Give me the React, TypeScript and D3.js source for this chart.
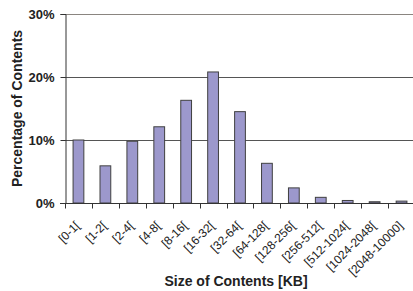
import React, { useRef, useEffect } from 'react';
import * as d3 from 'd3';

const categories = [
  '[0-1[', '[1-2[', '[2-4[', '[4-8[', '[8-16[', '[16-32[', '[32-64[',
  '[64-128[', '[128-256[', '[256-512[', '[512-1024[', '[1024-2048[', '[2048-10000]',
];
const percentages = [10.0, 5.9, 9.8, 12.1, 16.3, 20.8, 14.5, 6.3, 2.4, 0.9, 0.4, 0.2, 0.3];
const yTicks = [0, 10, 20, 30];

function Chart() {
  const chartRef = useRef<SVGSVGElement>(null);

  useEffect(() => {
    const svg = d3.select(chartRef.current);
    svg.selectAll('*').remove();

    const margin = { top: 14, right: -2, bottom: 88, left: 65 };
    const width = 413;
    const height = 291;
    const font = '"Liberation Sans", Arial, sans-serif';

    const x = d3
      .scaleBand()
      .domain(categories)
      .range([margin.left, width - margin.right])
      .paddingInner(0.6)
      .paddingOuter(0.3);

    const y = d3
      .scaleLinear()
      .domain([0, 30])
      .range([height - margin.bottom, margin.top]);

    // gridlines
    svg
      .append('g')
      .selectAll('line')
      .data(yTicks.slice(1))
      .enter()
      .append('line')
      .attr('x1', margin.left)
      .attr('x2', width)
      .attr('y1', (d) => Math.round(y(d)) + 0.5)
      .attr('y2', (d) => Math.round(y(d)) + 0.5)
      .attr('stroke', (d) => (d === 30 ? '#8a8580' : '#555'))
      .attr('stroke-width', 1);

    // bars
    svg
      .append('g')
      .selectAll('rect')
      .data(percentages)
      .enter()
      .append('rect')
      .attr('x', (d, i) => x(categories[i]))
      .attr('y', (d) => y(d))
      .attr('width', x.bandwidth())
      .attr('height', (d) => y(0) - y(d))
      .attr('fill', '#9c98cc')
      .attr('stroke', '#404040')
      .attr('stroke-width', 1);

    // y axis
    const yAxis = svg
      .append('g')
      .attr('transform', `translate(${margin.left + 0.5},0)`)
      .call(d3.axisLeft(y).tickValues(yTicks).tickSize(5).tickFormat((d) => `${d}%`));
    yAxis.select('.domain').attr('stroke', '#333');
    yAxis.selectAll('.tick line').attr('stroke', '#333');
    yAxis
      .selectAll('.tick text')
      .attr('font-family', font)
      .attr('font-size', 13)
      .attr('font-weight', 'bold')
      .attr('fill', '#222')
      .attr('x', -11);

    // x axis
    const step = x.step();
    const xAxisG = svg
      .append('g')
      .attr('transform', `translate(0,${Math.round(y(0)) + 0.5})`);
    xAxisG
      .append('line')
      .attr('x1', margin.left - 5)
      .attr('x2', width)
      .attr('stroke', '#333');
    xAxisG
      .selectAll('.xtick')
      .data(categories)
      .enter()
      .append('line')
      .attr('x1', (d) => Math.round(x(d) + x.bandwidth() / 2 - step / 2) + 0.5)
      .attr('x2', (d) => Math.round(x(d) + x.bandwidth() / 2 - step / 2) + 0.5)
      .attr('y1', 0)
      .attr('y2', 5)
      .attr('stroke', '#333');
    xAxisG
      .selectAll('text')
      .data(categories)
      .enter()
      .append('text')
      .attr('transform', (d) => `translate(${x(d) + x.bandwidth() / 2 + 2},${23}) rotate(-45)`)
      .attr('text-anchor', 'end')
      .attr('font-family', font)
      .attr('font-size', 12)
      .attr('fill', '#222')
      .text((d) => d);

    // axis titles
    svg
      .append('text')
      .attr('transform', `translate(22,${(y(0) + y(30)) / 2}) rotate(-90)`)
      .attr('text-anchor', 'middle')
      .attr('font-family', font)
      .attr('font-size', 14)
      .attr('font-weight', 'bold')
      .attr('fill', '#222')
      .text('Percentage of Contents');

    svg
      .append('text')
      .attr('x', 236)
      .attr('y', 286)
      .attr('text-anchor', 'middle')
      .attr('font-family', font)
      .attr('font-size', 14)
      .attr('font-weight', 'bold')
      .attr('fill', '#222')
      .text('Size of Contents [KB]');
  }, []);

  return <svg ref={chartRef} width={413} height={291} style={{ display: 'block' }}></svg>;
}

export default function App() {
  return (
    <div style={{ position: 'absolute', left: 0, top: 0 }}>
      <Chart />
    </div>
  );
}
